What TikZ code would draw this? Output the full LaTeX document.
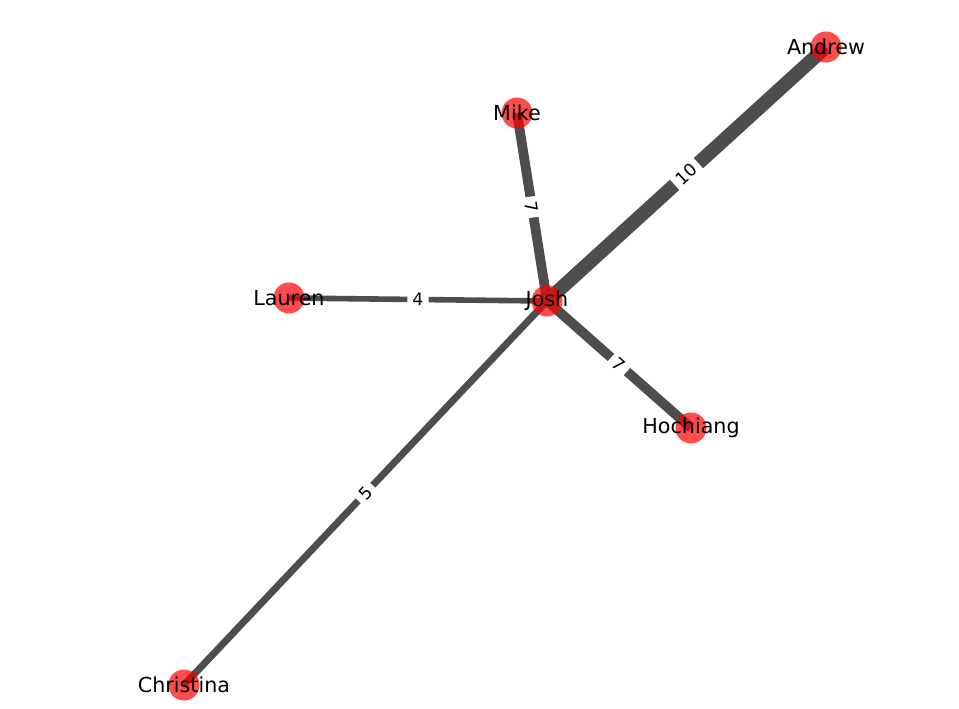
\documentclass[tikz,border=0pt]{standalone}
\usepackage{fontspec}
\setmainfont{DejaVu Sans}
\usetikzlibrary{backgrounds}
\definecolor{edgegray}{HTML}{4D4D4D}
\tikzset{
  vertex/.style={circle, fill=red, fill opacity=0.7, draw=none, minimum size=23.3pt, inner sep=0pt},
  vname/.style={font=\fontsize{15.5}{17}\selectfont, text=black, inner sep=0pt},
  link/.style={draw=edgegray, line cap=butt},
  wlabel/.style={sloped, fill=white, rounded corners=3pt, inner sep=3.8pt, font=\fontsize{12.9}{14}\selectfont, text=black}
}
\begin{document}
\begin{tikzpicture}[x=0.75pt,y=-0.75pt]
\useasboundingbox (0,0) rectangle (959,708);
\node[vertex] (andrew) at (826,47) {};
\node[vertex] (mike) at (517,113) {};
\node[vertex] (lauren) at (289,298) {};
\node[vertex] (josh) at (547,301) {};
\node[vertex] (hochiang) at (691,428) {};
\node[vertex] (christina) at (184,685) {};
\node[vname] (andrewt) at (andrew) {Andrew};
\node[vname] (miket) at (mike) {Mike};
\node[vname] (laurent) at (lauren) {Lauren};
\node[vname] (josht) at (josh) {Josh};
\node[vname] (hochiangt) at (hochiang) {Hochiang};
\node[vname] (christinat) at (christina) {Christina};
\begin{scope}[on background layer]
\draw[link, line width=10.4pt] (josh.center) -- node[wlabel] (l1) {10} (andrew.center);
\draw[link, line width=7.3pt] (mike.center) -- node[wlabel] (l2) {7} (josh.center);
\draw[link, line width=4.2pt] (lauren.center) -- node[wlabel] (l3) {4} (josh.center);
\draw[link, line width=7.3pt] (josh.center) -- node[wlabel] (l4) {7} (hochiang.center);
\draw[link, line width=5.2pt] (christina.center) -- node[wlabel] (l5) {5} (josh.center);
\end{scope}
\end{tikzpicture}
\end{document}
